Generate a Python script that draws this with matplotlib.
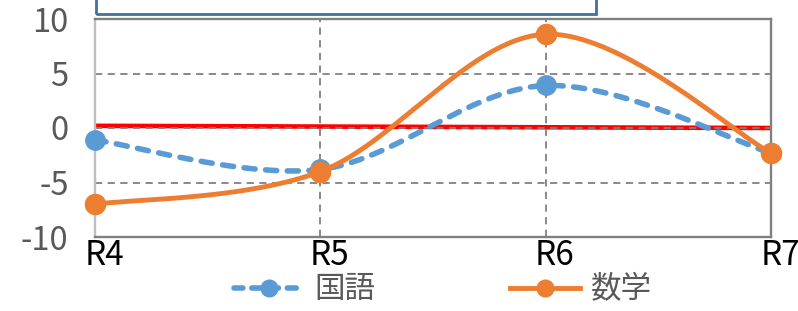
import numpy as np
import matplotlib
matplotlib.use("Agg")
import matplotlib.pyplot as plt
import matplotlib.transforms as mtransforms
from matplotlib.patches import Rectangle

plt.rcParams['font.family'] = ['Noto Sans CJK JP', 'DejaVu Sans']
plt.rcParams['axes.unicode_minus'] = False

# データ
rounds = ['R4', 'R5', 'R6', 'R7']
kokugo = [-1.1, -3.8, 3.9, -2.3]
suugaku = [-7.0, -4.0, 8.6, -2.3]
kijun_x = [0, 3]
kijun_y = [0.2, 0.0]

BLUE = '#5B9BD5'
ORANGE = '#ED7D31'
GRAY = '#595959'


def smooth(y, n=60):
    """Excel風のスムージング（Catmull-Rom / ベジェ）"""
    x = np.arange(len(y), dtype=float)
    p = np.column_stack([x, np.asarray(y, dtype=float)])
    pts = np.vstack([p[0], p, p[-1]])
    out = []
    t = np.linspace(0, 1, n)[:, None]
    for i in range(1, len(pts) - 2):
        p0, p1, p2, p3 = pts[i - 1], pts[i], pts[i + 1], pts[i + 2]
        c1 = p1 + (p2 - p0) / 6
        c2 = p2 - (p3 - p1) / 6
        seg = ((1 - t) ** 3) * p1 + 3 * ((1 - t) ** 2) * t * c1 \
            + 3 * (1 - t) * t ** 2 * c2 + t ** 3 * p2
        out.append(seg)
    seg = np.vstack(out)
    return seg[:, 0], seg[:, 1]


fig = plt.figure(figsize=(7.98, 3.11), dpi=100)
ax = fig.add_axes([95 / 798, 1 - 237 / 311, (771 - 95) / 798, (237 - 19) / 311])

# 基準線
ax.plot(kijun_x, kijun_y, color='#FF0000', lw=3.3, zorder=1)

x = np.arange(len(rounds))
sx, sy = smooth(kokugo)
ax.plot(sx, sy, color=BLUE, lw=4, dashes=(2.0, 1.9), dash_capstyle='round', zorder=3)
ax.plot(x, kokugo, 'o', color=BLUE, ms=14, zorder=3, clip_on=False)
sx, sy = smooth(suugaku)
ax.plot(sx, sy, color=ORANGE, lw=3.5, zorder=4, clip_on=False)
ax.plot(x, suugaku, 'o', color=ORANGE, ms=14.5, zorder=4, clip_on=False)

# 凡例用のハンドル
h1, = ax.plot([], [], color=BLUE, lw=4, dashes=(1.6, 1.6), dash_capstyle='round',
              marker='o', ms=12, label='国語')
h2, = ax.plot([], [], color=ORANGE, lw=3.5, marker='o', ms=12, label='数学')

ax.set_xlim(0, 3)
ax.set_ylim(-10, 10)
ax.set_yticks([-10, -5, 0, 5, 10])
ax.set_xticks(x)
ax.set_xticklabels(rounds, fontsize=24, color='black')
ax.tick_params(axis='y', labelsize=23.5, labelcolor=GRAY, length=0, pad=19)
ax.tick_params(axis='x', length=0, pad=1)
offset = mtransforms.ScaledTranslation(9 / 100, 0, fig.dpi_scale_trans)
for lab in ax.get_xticklabels():
    lab.set_transform(lab.get_transform() + offset)

ax.grid(True, color='#808080', linestyle=(0, (4, 3)), lw=1.3)
ax.spines['left'].set_color('#BFBFBF')
for s in ['top', 'right', 'bottom']:
    ax.spines[s].set_color('#808080')
for s in ax.spines.values():
    s.set_linewidth(1.7)

# 上部のテキストボックス（切れている）
fig.patches.append(Rectangle((96 / 798, 1 - 14 / 311), 500 / 798, 30 / 311,
                             transform=fig.transFigure, fill=False,
                             edgecolor='#41719C', lw=2))

leg = fig.legend(handles=[h1, h2], loc='center', bbox_to_anchor=(0.555, 0.068),
                 ncol=2, frameon=False, fontsize=22, handlelength=2.3,
                 handletextpad=0.35, columnspacing=4.4)
for t in leg.get_texts():
    t.set_color(GRAY)

fig.savefig('out.png', dpi=100)
